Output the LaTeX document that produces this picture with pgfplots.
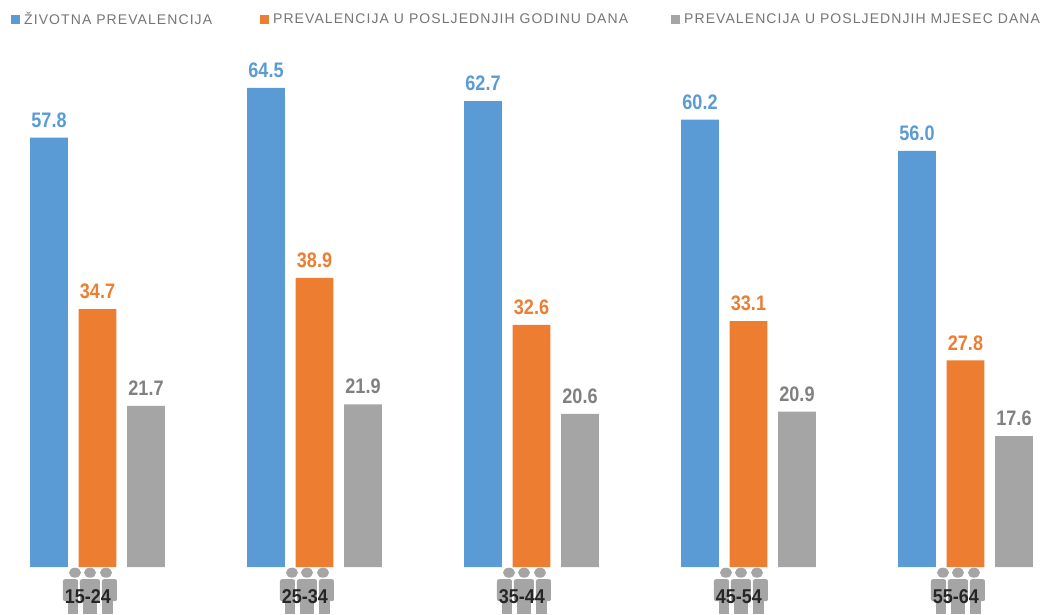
\documentclass[border=0pt]{standalone}
\usepackage{fontspec}
\setmainfont{Liberation Sans}
\newfontfamily\legfont[LetterSpace=7.7]{Liberation Sans}
\usepackage{pgfplots}
\pgfplotsset{compat=1.18}
\definecolor{cblue}{HTML}{5B9BD5}
\definecolor{corange}{HTML}{ED7D31}
\definecolor{cgray}{HTML}{A5A5A5}
\definecolor{ctext}{HTML}{808080}
\definecolor{clegend}{HTML}{757575}
\newsavebox{\peoplebox}
\newcommand{\person}[5]{% head x, body l, body r, leg l, leg r
  \fill[cgray] (#1,-5.5) ellipse (6pt and 5pt);
  \fill[cgray,rounded corners=2pt] (#2,-34) rectangle (#3,-12);
  \fill[cgray] (#4,-47) rectangle (#5,-30);
}
\sbox{\peoplebox}{\begin{tikzpicture}[x=1pt,y=1pt]
  \person{-22.5}{-34.5}{-19.5}{-29.5}{-19.5}
  \person{-7.5}{-17.5}{2.5}{-14.5}{-0.5}
  \person{8.5}{4.5}{19.5}{4.5}{15.5}
  \path (-35,0) (20,-47);
\end{tikzpicture}}
\begin{document}
\begin{tikzpicture}
\path[use as bounding box] (0,0) rectangle (1041pt,614pt);
\begin{axis}[
  at={(0,0)}, anchor=south west,
  scale only axis, width=1041pt, height=614pt,
  xmin=-0.4493, xmax=4.3479, ymin=-6.326, ymax=76.31,
  axis line style={draw=none}, tick style={draw=none},
  axis on top,
  ytick=\empty,
  xtick={0,1,2,3,4},
  xticklabels={\scalebox{.9}[1]{15-24},\scalebox{.9}[1]{25-34},\scalebox{.9}[1]{35-44},\scalebox{.9}[1]{45-54},\scalebox{.9}[1]{55-64}},
  xticklabel style={yshift=32pt, xshift=-9.5pt, font=\fontsize{20}{22}\selectfont\bfseries, text=black!85},
  clip=false,
  ybar, bar width=0.175,
  nodes near coords={\scalebox{.86}[1]{\pgfmathprintnumber[assume math mode=true]{\pgfplotspointmeta}}},
  /pgf/number format/fixed, /pgf/number format/zerofill, /pgf/number format/precision=1,
  nodes near coords style={font=\fontsize{21}{23}\selectfont\bfseries, inner sep=0pt, yshift=10pt, anchor=south},
  legend columns=3,
  legend style={at={(0,1)}, anchor=north west, draw=none, fill=none, xshift=11pt, yshift=-10pt,
    font=\fontsize{14}{16}\selectfont\legfont, text=clegend, inner sep=0pt,
    /tikz/column 1/.style={column sep=2pt},
    /tikz/column 2/.style={column sep=46pt},
    /tikz/column 3/.style={column sep=2pt},
    /tikz/column 4/.style={column sep=41pt},
    /tikz/column 5/.style={column sep=2pt}},
  legend image code/.code={\fill[#1] (0pt,-4.5pt) rectangle (9pt,4.5pt);},
]
\pgfplotsinvokeforeach{0,1,2,3,4}{
  \node[inner sep=0pt, anchor=north] at (axis cs:#1,0) [xshift=-7.5pt] {\usebox{\peoplebox}};
}
\addplot[fill=cblue, draw=none, bar shift=-0.2235, nodes near coords style={text=cblue}]
  coordinates {(0,57.8) (1,64.5) (2,62.7) (3,60.2) (4,56.0)};
\addlegendentry{ŽIVOTNA PREVALENCIJA}
\addplot[fill=corange, draw=none, bar shift=0, nodes near coords style={text=corange}]
  coordinates {(0,34.7) (1,38.9) (2,32.6) (3,33.1) (4,27.8)};
\addlegendentry{PREVALENCIJA U POSLJEDNJIH GODINU DANA}
\addplot[fill=cgray, draw=none, bar shift=0.2235, nodes near coords style={text=ctext}]
  coordinates {(0,21.7) (1,21.9) (2,20.6) (3,20.9) (4,17.6)};
\addlegendentry{PREVALENCIJA U POSLJEDNJIH MJESEC DANA}
\end{axis}
\end{tikzpicture}
\end{document}
